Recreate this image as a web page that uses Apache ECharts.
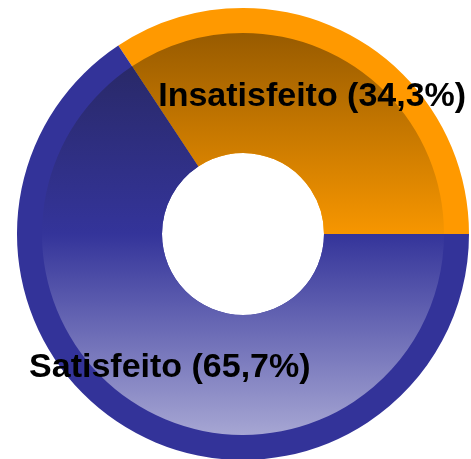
<!DOCTYPE html>
<html>
<head>
<meta charset="utf-8">
<script src="https://cdn.jsdelivr.net/npm/echarts@6/dist/echarts.min.js"></script>
<style>
  html, body { margin: 0; padding: 0; background: #fff; }
  #chart { width: 471px; height: 459px; }
</style>
</head>
<body>
<div id="chart"></div>
<script>
// satisfaction split
const categories = ['Insatisfeito', 'Satisfeito'];
const percents = [34.3, 65.7];
const rimColors = ['#ff9900', '#333399'];
const labelOffsets = [[1, -11], [-5, 7]];

const cx = 243, cy = 234;
const holeR = 81, innerR = 201, outerR = 226;

// vertical shading over the inner disc, in page pixels
function shade(stops) {
    return {
        type: 'linear', global: true,
        x: 0, y: cy - innerR, x2: 0, y2: cy + innerR,
        colorStops: stops
    };
}
const innerColors = [
    shade([{offset: 0, color: '#985b00'}, {offset: 0.5, color: '#f79600'}, {offset: 1, color: '#ffb030'}]),
    shade([{offset: 0, color: '#27275f'}, {offset: 0.5, color: '#34349a'}, {offset: 1, color: '#a6a6d3'}])
];

const fmt = p => p.name + ' (' + p.value.toFixed(1).replace('.', ',') + '%)';

let myChart = echarts.init(document.getElementById('chart'));
myChart.setOption({
    animation: false,
    series: [{
        type: 'pie',
        silent: true,
        center: [cx, cy],
        radius: [holeR, outerR],
        startAngle: 0,
        clockwise: false,
        label: {show: false},
        labelLine: {show: false},
        data: categories.map((c, i) => ({name: c, value: percents[i], itemStyle: {color: rimColors[i]}}))
    }, {
        type: 'pie',
        silent: true,
        center: [cx, cy],
        radius: [holeR, innerR],
        startAngle: 0,
        clockwise: false,
        label: {
            show: true,
            position: 'inside',
            formatter: fmt,
            color: '#000',
            fontFamily: 'Liberation Sans, Arial, sans-serif',
            fontWeight: 'bold',
            fontSize: 34
        },
        labelLine: {show: false},
        data: categories.map((c, i) => ({
            name: c, value: percents[i],
            itemStyle: {color: innerColors[i]},
            label: {offset: labelOffsets[i]}
        }))
    }]
});
</script>
</body>
</html>
